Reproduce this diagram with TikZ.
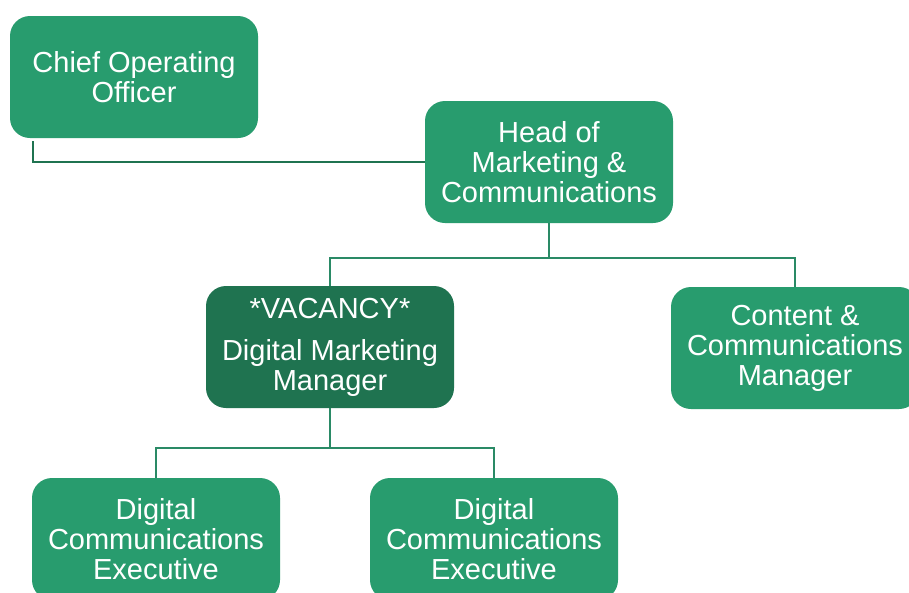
\documentclass[tikz,border=0pt]{standalone}
\usepackage{fontspec}
\setmainfont{Liberation Sans}
\usetikzlibrary{calc}
\definecolor{boxgreen}{HTML}{289C6E}
\definecolor{darkgreen}{HTML}{1F7350}
\definecolor{linegreen}{HTML}{2A8A66}
\tikzset{
  role/.style={rectangle, rounded corners=20pt, fill=boxgreen, text=white,
    minimum width=248pt, minimum height=122pt, align=center, inner sep=0pt,
    font=\fontsize{29}{30}\selectfont},
  vacant/.style={role, fill=darkgreen},
  link/.style={draw=linegreen, line width=2.6pt},
  toplink/.style={draw=darkgreen, line width=2.6pt}
}
\begin{document}
\begin{tikzpicture}[x=1pt, y=-1pt]
  \useasboundingbox (0,0) rectangle (909,592);
  \fill[white] (0,0) rectangle (909,592);

  % positions
  \node[role] (coo) at (134,77) {Chief Operating\\Officer};
  \node[role] (head) at (549,162) {Head of\\Marketing \&\\Communications};
  \node[vacant] (vac) at (330,347) {*VACANCY*\\[12pt]Digital Marketing\\Manager};
  \node[role] (content) at (795,348) {Content \&\\Communications\\Manager};
  \node[role] (exec1) at (156,539) {Digital\\Communications\\Executive};
  \node[role] (exec2) at (494,539) {Digital\\Communications\\Executive};

  \coordinate (bar1) at (549,258);
  \coordinate (bar2) at (330,448);

  % reporting lines
  \draw[toplink] ([xshift=23pt,yshift=-3pt]coo.south west) |- (head.west);
  \draw[link] (head.south) -- (bar1) -| (vac.north);
  \draw[link] (bar1) -| (content.north);
  \draw[link] (vac.south) -- (bar2) -| (exec1.north);
  \draw[link] (bar2) -| (exec2.north);
\end{tikzpicture}
\end{document}
